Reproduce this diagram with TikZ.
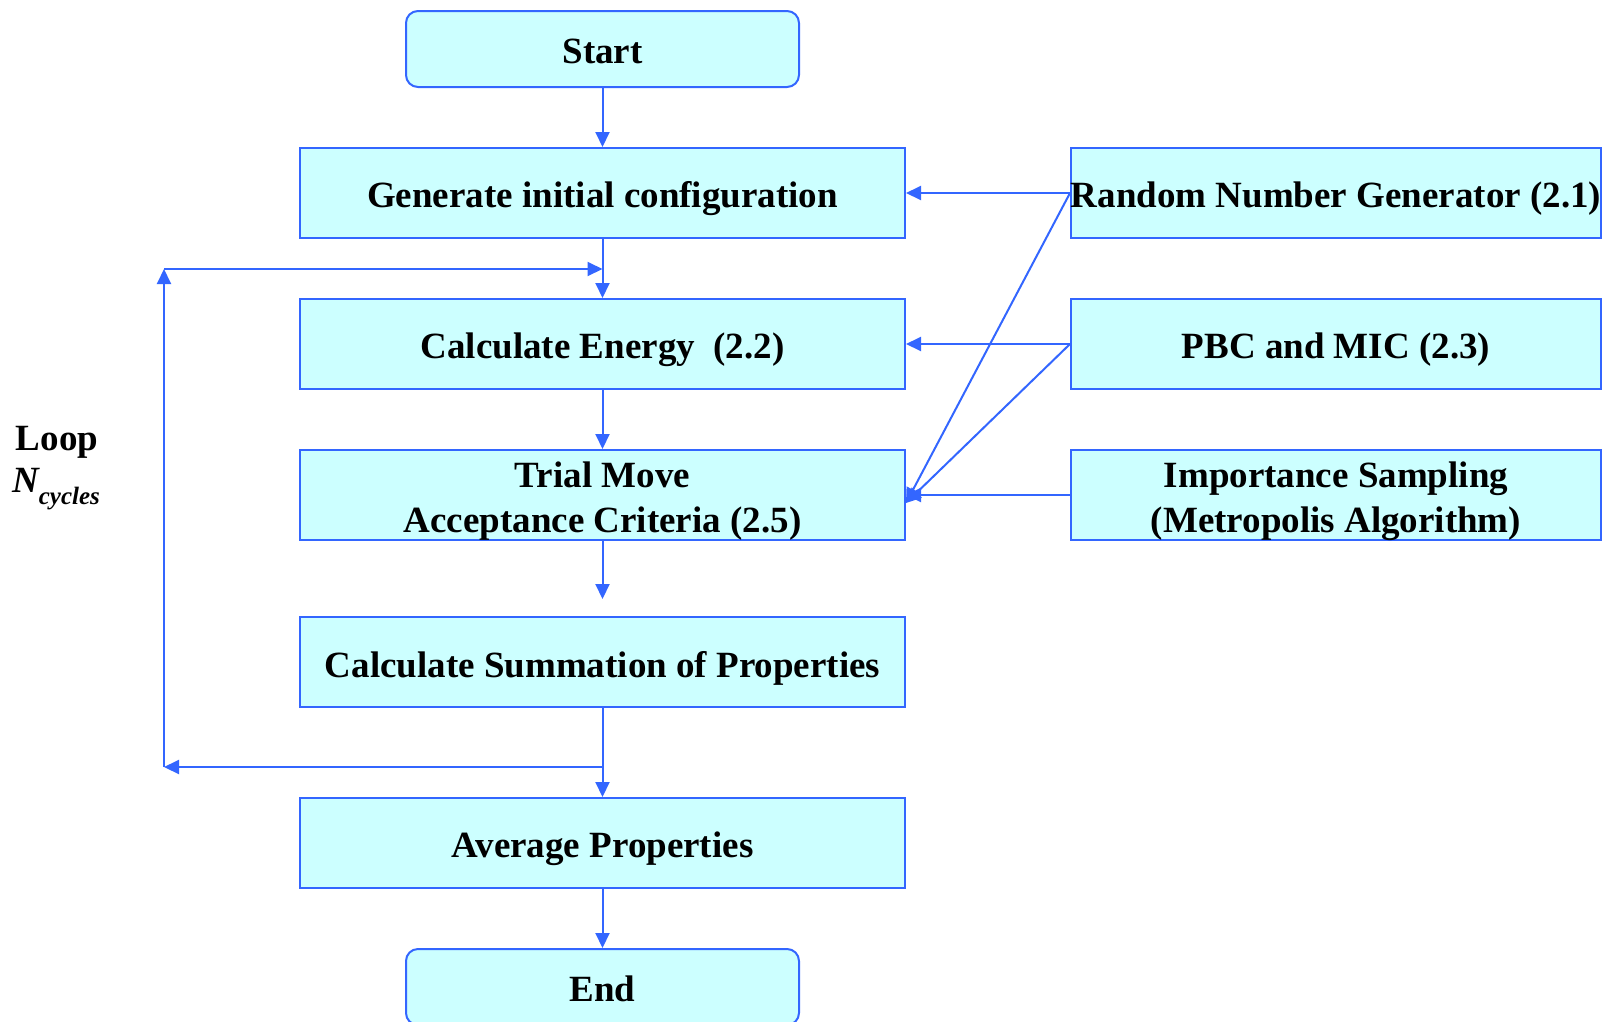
\documentclass[tikz,border=0pt]{standalone}
\usepackage{fontspec}
\setmainfont{Liberation Serif}
\usetikzlibrary{arrows.meta}
\definecolor{lineblue}{HTML}{3366FF}
\definecolor{boxfill}{HTML}{CCFFFF}
\begin{document}
\begin{tikzpicture}[x=1pt,y=-1pt,
  boxtext/.style={align=center, inner sep=0pt,
    font=\fontsize{37}{45}\selectfont\bfseries},
  boxbase/.style={draw=lineblue, fill=boxfill, line width=2pt, inner sep=0pt},
  mainbox/.style={boxbase, minimum width=605pt, minimum height=90pt,
    label={[boxtext, yshift=-6pt]center:#1}},
  sidebox/.style={boxbase, minimum width=530pt, minimum height=90pt,
    label={[boxtext, yshift=-6pt]center:#1}},
  termbox/.style={boxbase, rounded corners=12pt, minimum width=393pt, minimum height=76pt,
    label={[boxtext, yshift=-2pt]center:#1}},
  conn/.style={draw=lineblue, line width=2pt, -{Triangle[length=15pt,width=14pt]}},
  looptext/.style={inner sep=0pt, font=\fontsize{37}{45}\selectfont\bfseries}
]
\useasboundingbox (0,0) rectangle (1604,1021);
\begin{scope}
\clip (0,0) rectangle (1604,1021);
\node[termbox={Start}] (start) at (602.5,49) {};
\node[mainbox={Generate initial configuration}] (gen) at (602.5,193) {};
\node[mainbox={Calculate Energy\ \ (2.2)}] (ce) at (602.5,344) {};
\node[mainbox={Trial Move\\Acceptance Criteria (2.5)}] (tr) at (602.5,495) {};
\node[mainbox={Calculate Summation of Properties}] (sum) at (602.5,662) {};
\node[mainbox={Average Properties}] (avg) at (602.5,843) {};
\node[termbox={End}] (end) at (602.5,987) {};

\node[sidebox={Random Number Generator (2.1)}] (rng) at (1336,193) {};
\node[sidebox={PBC and MIC (2.3)}] (pbc) at (1336,344) {};
\node[sidebox={Importance Sampling\\(Metropolis Algorithm)}] (imp) at (1336,495) {};
\end{scope}

\node[looptext] (loop) at (57,442) {Loop};
\node[looptext, font=\fontsize{37}{45}\selectfont\bfseries\itshape] (ncyc) at (56,489)
  {N\raisebox{-0.32em}{\fontsize{25}{30}\selectfont\bfseries\itshape cycles}};

\coordinate (lt) at (164,269);
\coordinate (lb) at (164,767);

\draw[conn] (start) -- (gen);
\draw[conn] (gen) -- (ce);
\draw[conn] (ce) -- (tr);
\draw[conn, shorten >=17pt] (tr) -- (sum);
\draw[conn] (sum) -- (avg);
\draw[conn] (avg) -- (end);

\draw[conn] (sum.south |- lb) -- (lb);
\draw[conn] (lb) -- (lt);
\draw[conn] (lt) -- (gen.south |- lt);

\draw[conn] (rng.west) -- (gen.east);
\draw[conn] (pbc.west) -- (ce.east);
\draw[conn] (imp.west) -- (tr.east);
\draw[conn] (rng.west) -- ([yshift=-8pt]tr.east);
\draw[conn] (pbc.west) -- ([yshift=-8pt]tr.east);
\end{tikzpicture}
\end{document}
